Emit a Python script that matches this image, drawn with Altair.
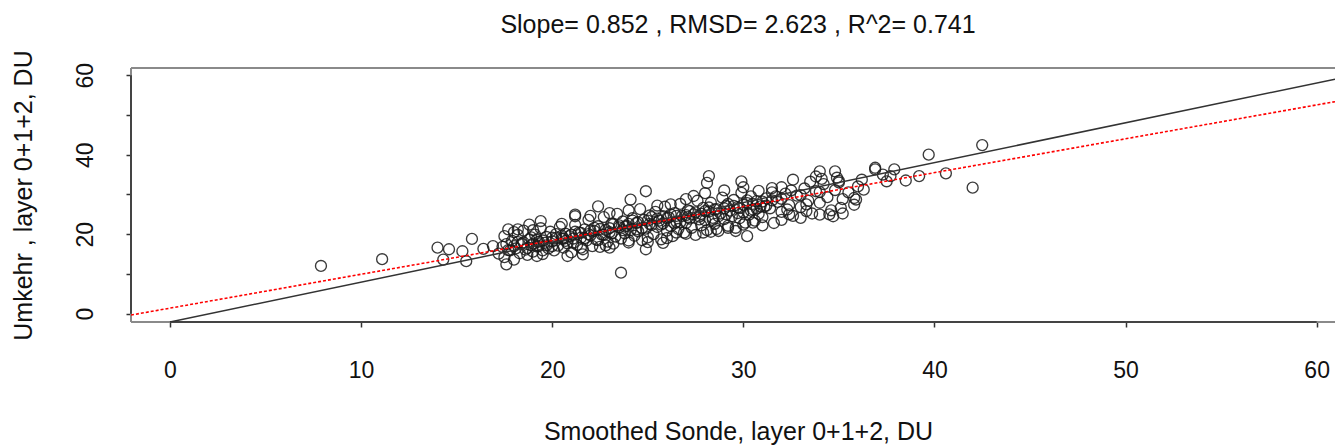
import altair as alt
import pandas as pd

# ---------------- data ----------------
sonde = [
    7.9, 11.1, 14.0, 14.6, 14.3, 15.3, 15.5, 15.8, 16.4, 16.9, 17.6, 17.7, 18.2, 19.4, 18.8, 21.2, 20.8, 19.2,
    23.6, 28.2, 28.1, 24.9, 24.1, 22.4, 21.2, 29.9, 34.0, 34.8, 30.2, 29.6, 34.7, 35.1, 35.8, 36.9, 32.6, 25.8,
    24.9, 23.0, 21.6, 20.0, 28.6, 27.9, 30.5, 32.4, 33.3, 26.5,
    42.5, 39.7, 40.6, 42.0, 39.2, 37.9, 37.5, 36.9, 36.2, 36.3, 35.9, 37.3, 37.7,
    17.2, 17.4, 17.5, 17.6, 17.8, 17.9, 18.0, 18.1, 18.2, 18.3, 18.4, 18.5, 18.6, 18.7, 18.8, 18.9, 19.0, 19.1,
    19.2, 19.3, 19.4, 19.5, 19.6, 19.7, 19.8, 19.9, 20.0, 20.1, 20.2, 20.3, 20.4, 20.5, 20.6, 20.7, 20.8, 20.9,
    21.0, 21.1, 21.2, 21.3, 21.4, 21.5, 21.6, 21.7, 21.8, 21.9, 22.0, 22.1, 22.2, 22.3, 22.4, 22.5, 22.6, 22.7,
    22.8, 22.9, 23.0, 23.1, 23.2, 23.3, 23.4, 23.5, 23.6, 23.7, 23.8, 23.9, 24.0, 24.1, 24.2, 24.3, 24.4, 24.5,
    24.6, 24.7, 24.8, 24.9, 25.0, 25.1, 25.2, 25.3, 25.4, 25.5, 25.6, 25.7, 25.8, 25.9, 26.0, 26.1, 26.2, 26.3,
    26.4, 26.5, 26.6, 26.7, 26.8, 26.9, 27.0, 27.1, 27.2, 27.3, 27.4, 27.5, 27.6, 27.7, 27.8, 27.9, 28.0, 28.1,
    28.2, 28.3, 28.4, 28.5, 28.6, 28.7, 28.8, 28.9, 29.0, 29.1, 29.2, 29.3, 29.4, 29.5, 29.6, 29.7, 29.8, 29.9,
    30.0, 30.1, 30.2, 30.3, 30.4, 30.5, 30.6, 30.7, 30.8, 30.9, 31.0, 31.2, 31.4, 31.6, 31.8, 32.0, 32.2, 32.4,
    32.6, 32.8, 33.0, 33.2, 33.4, 33.6, 33.8, 34.0, 34.2, 34.4, 34.6, 34.8, 35.0, 35.2, 35.5, 35.8, 36.0,
    18.0, 18.5, 19.0, 19.5, 20.0, 20.5, 21.0, 21.5, 22.0, 22.5, 23.0, 23.5, 24.0, 24.5, 25.0, 25.5, 26.0, 26.5,
    27.0, 27.5, 28.0, 28.5, 29.0, 29.5, 30.0, 30.5, 31.0, 31.5, 32.0, 33.0, 34.0,
    18.2, 18.7, 19.2, 19.7, 20.2, 20.7, 21.2, 21.7, 22.2, 22.7, 23.2, 23.7, 24.2, 24.7, 25.2, 25.7, 26.2, 26.7,
    27.2, 27.7, 28.2, 28.7, 29.2, 29.7, 30.2, 30.7, 31.2, 31.7, 32.3, 33.3,
    17.7, 18.9, 19.3, 20.6, 21.1, 21.9, 22.4, 23.1, 23.8, 24.4, 25.1, 25.8, 26.4, 27.1, 27.8, 28.4, 29.1, 29.8,
    30.4, 31.1,
    26.2, 27.0, 28.0, 29.0, 30.0, 30.8, 31.5, 27.4, 25.5, 24.0, 23.0, 22.0, 20.5, 19.0, 18.0, 17.5,
    19.5, 21.5, 22.8, 24.0, 25.0, 26.0, 27.0, 28.3, 29.2, 30.0, 31.0, 32.0, 33.0, 34.0, 35.2,
    34.1, 33.8, 35.0, 34.9, 38.5, 31.5, 32.5, 33.5, 32.0, 34.5,
]
umkehr = [
    12.0, 13.7, 16.6, 16.2, 13.6, 15.7, 13.2, 18.8, 16.3, 17.0, 12.4, 21.2, 21.2, 23.3, 22.4, 24.9, 14.5, 14.5,
    10.3, 34.6, 32.9, 30.8, 28.7, 27.0, 24.5, 33.3, 35.8, 35.8, 19.5, 20.8, 24.5, 26.6, 29.1, 36.3, 33.7, 17.8,
    16.2, 16.6, 14.9, 17.0, 21.3, 20.4, 22.9, 25.0, 25.8, 20.4,
    42.4, 40.0, 35.3, 31.7, 34.6, 36.3, 33.3, 36.7, 33.7, 31.2, 28.7, 35.0, 34.6,
    15.1, 16.8, 14.2, 17.5, 15.9, 18.3, 13.6, 16.4, 19.8, 15.2, 17.6, 20.9, 16.1, 14.8, 18.7, 17.2, 15.6, 19.9,
    16.9, 18.1, 21.5, 15.0, 17.8, 19.3, 16.4, 20.6, 18.2, 15.9, 19.0, 17.1, 21.8, 18.8, 16.6, 20.1, 17.7, 19.5,
    15.4, 18.9, 22.3, 17.3, 20.4, 19.1, 16.2, 21.2, 18.4, 23.6, 19.7, 17.0, 20.8, 18.6, 22.0, 16.8, 19.9, 24.3,
    21.1, 18.1, 20.5, 22.6, 17.6, 19.4, 25.1, 21.7, 18.9, 23.2, 20.2, 22.1, 17.9, 21.0, 24.0, 19.6, 22.8, 20.7,
    26.3, 18.5, 23.6, 21.4, 19.2, 24.7, 22.3, 20.0, 25.6, 21.8, 23.4, 18.7, 22.7, 26.9, 20.9, 24.2, 22.0, 19.5,
    25.3, 23.1, 21.3, 27.6, 24.6, 20.4, 22.8, 26.0, 23.9, 21.6, 25.0, 19.8, 28.4, 24.4, 22.2, 26.6, 23.5, 21.0,
    25.7, 27.9, 24.1, 22.6, 26.3, 20.8, 25.2, 29.2, 23.8, 27.1, 22.1, 25.9, 24.5, 28.6, 21.6, 26.8, 24.0, 30.4,
    25.5, 22.9, 27.8, 24.9, 29.5, 26.2, 23.4, 28.3, 25.1, 27.0, 24.3, 29.0, 26.5, 22.8, 28.1, 25.6, 30.2, 27.3,
    24.6, 29.7, 26.8, 31.5, 28.4, 25.2, 30.8, 27.9, 32.6, 29.3, 26.0, 31.1, 33.4, 28.8, 30.5, 27.4, 32.0,
    17.0, 17.9, 17.6, 18.4, 19.1, 19.6, 19.9, 20.3, 20.9, 21.3, 21.5, 22.2, 22.6, 23.0, 23.4, 23.9, 24.0, 24.6,
    24.8, 25.5, 25.8, 26.2, 26.5, 27.1, 27.4, 27.6, 28.2, 28.5, 28.9, 29.8, 30.6,
    18.0, 16.5, 18.6, 17.2, 20.0, 18.3, 20.6, 19.0, 21.6, 19.8, 22.5, 21.0, 23.4, 21.5, 24.3, 22.4, 25.0, 23.0,
    25.8, 23.7, 26.7, 24.5, 27.6, 25.3, 28.5, 26.4, 27.2, 29.5, 26.2, 27.5,
    16.0, 19.2, 17.0, 18.9, 17.8, 20.0, 18.5, 20.2, 21.9, 21.2, 22.6, 24.5, 22.7, 24.3, 25.1, 23.6, 25.0, 26.6,
    25.9, 26.9,
    27.5, 28.8, 30.3, 31.0, 31.8, 30.9, 31.6, 29.6, 27.2, 26.0, 25.3, 24.6, 22.6, 21.0, 20.5, 19.5,
    15.9, 16.6, 17.2, 18.4, 18.0, 19.0, 20.1, 20.6, 21.6, 22.4, 22.2, 23.6, 24.1, 24.9, 25.2,
    33.9, 34.5, 33.0, 34.2, 33.5, 30.5, 31.0, 33.2, 31.8, 25.0,
]

# fitted (red, dotted) and reference (black, solid) lines, end points
fit_x = [-2.04, 60.96]
fit_y = [-0.35, 53.33]
ref_x = [0.0, 60.96]
ref_y = [-2.1, 59.0]

x_ticks = [0, 10, 20, 30, 40, 50, 60]
y_ticks = [0, 10, 20, 30, 40, 50, 60]
x_domain = [-2.04, 60.96]
y_domain = [-2.1, 61.8]

title_text = "Slope= 0.852 , RMSD= 2.623 , R^2= 0.741"
x_title = "Smoothed Sonde, layer 0+1+2, DU"
y_title = "Umkehr , layer 0+1+2, DU"

FONT = "Liberation Sans"

pts = pd.DataFrame({"x": sonde, "y": umkehr})
fit = pd.DataFrame({"x": fit_x, "y": fit_y})
ref = pd.DataFrame({"x": ref_x, "y": ref_y})

# frame segments: light box + darker axis lines spanning first..last tick
segs = pd.DataFrame({
    "x":  [x_domain[0], x_domain[0], x_domain[0], x_ticks[0], x_domain[0]],
    "x2": [x_domain[1], x_domain[1], x_domain[0], x_ticks[-1], x_domain[0]],
    "y":  [y_domain[1], y_domain[0], y_domain[0], y_domain[0], y_ticks[0]],
    "y2": [y_domain[1], y_domain[0], y_domain[1], y_domain[0], y_ticks[-1]],
    "kind": ["box", "box", "box", "axis", "axis"],
})

W, H = 1204, 254

xs = alt.Scale(domain=x_domain, nice=False, zero=False)
ys = alt.Scale(domain=y_domain, nice=False, zero=False)

x_axis = alt.Axis(
    values=x_ticks, grid=False, domain=False, tickColor="#333", tickWidth=1.5, tickSize=5,
    labelFont=FONT, labelFontSize=23, labelColor="#111", labelPadding=50,
    labelBaseline="alphabetic", labelFlush=False,
    title=x_title, titleFont=FONT, titleFontSize=25, titleFontWeight="normal", titleColor="#111",
    titleBaseline="alphabetic", titleY=117, titleX=W / 2 + 5, titleAlign="center",
)
y_axis = alt.Axis(
    values=y_ticks, grid=False, domain=False, tickColor="#333", tickWidth=1.5, tickSize=5,
    labelFont=FONT, labelFontSize=23, labelColor="#111", labelPadding=34, labelAngle=270,
    labelAlign="center", labelBaseline="alphabetic", labelFlush=False,
    labelExpr="datum.value % 20 == 0 ? datum.label : ''",
    title=y_title, titleFont=FONT, titleFontSize=25, titleFontWeight="normal", titleColor="#111",
    titleAngle=270, titleBaseline="middle", titleAlign="center", titleX=-108, titleY=H / 2,
)

points = alt.Chart(pts).mark_point(
    shape="circle", filled=False, size=120, stroke="#1a1a1a", strokeWidth=1.35, opacity=0.85
).encode(
    x=alt.X("x:Q", scale=xs, axis=x_axis),
    y=alt.Y("y:Q", scale=ys, axis=y_axis),
)

frame = alt.Chart(segs).mark_rule(strokeWidth=2).encode(
    x=alt.X("x:Q", scale=xs, axis=x_axis),
    x2="x2:Q",
    y=alt.Y("y:Q", scale=ys, axis=y_axis),
    y2="y2:Q",
    color=alt.Color("kind:N", scale=alt.Scale(domain=["box", "axis"], range=["#8a8a8a", "#444444"]), legend=None),
)

ref_line = alt.Chart(ref).mark_line(color="#333", strokeWidth=1.5, clip=True).encode(
    x=alt.X("x:Q", scale=xs, axis=x_axis), y=alt.Y("y:Q", scale=ys, axis=y_axis)
)
fit_line = alt.Chart(fit).mark_line(color="#ff0000", strokeWidth=1.6, strokeDash=[3, 2], clip=True).encode(
    x=alt.X("x:Q", scale=xs, axis=x_axis), y=alt.Y("y:Q", scale=ys, axis=y_axis)
)

chart = alt.layer(points, frame, ref_line, fit_line).properties(
    width=W, height=H,
    title=alt.TitleParams(
        text=title_text, font=FONT, fontSize=25, fontWeight="normal", color="#111",
        anchor="middle", frame="group", baseline="alphabetic", offset=9, dx=5, dy=17,
    ),
    autosize=alt.AutoSizeParams(type="none"),
    padding={"left": 131, "top": 68, "right": 0, "bottom": 123},
).configure_view(stroke=None).configure(background="white")

chart.save("out.html", embed_options={"renderer": "svg", "actions": False})
